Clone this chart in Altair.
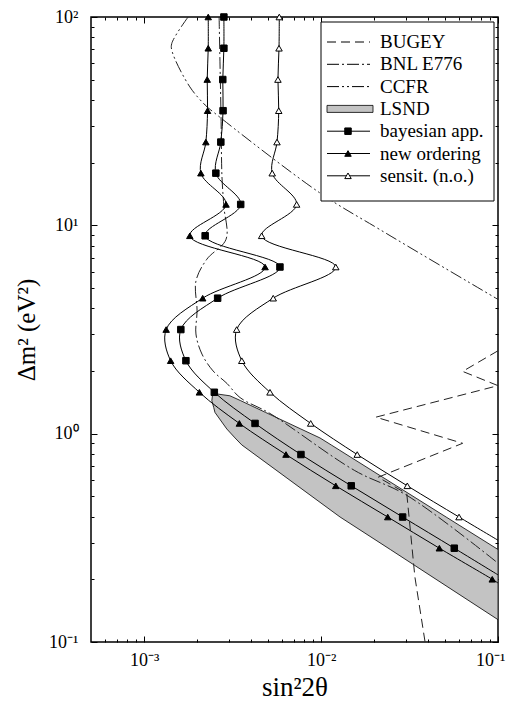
import altair as alt
import pandas as pd

# ---------------- data ----------------
# Delta m^2 grid (eV^2) at which the model-curve markers sit
DM2_GRID = [100.0, 70.8, 50.1, 35.5, 25.1, 17.8, 12.6, 8.91, 6.31, 4.47,
            3.16, 2.24, 1.58, 1.12, 0.794, 0.562, 0.398, 0.282, 0.200]

NEW_ORDER_X = [2.30e-3, 2.30e-3, 2.27e-3, 2.28e-3, 2.23e-3, 2.09e-3, 2.90e-3,
               1.81e-3, 4.82e-3, 2.14e-3, 1.33e-3, 1.41e-3, 2.05e-3, 3.45e-3,
               6.33e-3, 1.21e-2, 2.38e-2, 4.66e-2, 9.28e-2]
NEW_ORDER_END = [0.1, 0.192]

BAYES_X = [2.82e-3, 2.82e-3, 2.78e-3, 2.79e-3, 2.71e-3, 2.54e-3, 3.51e-3,
           2.21e-3, 5.85e-3, 2.60e-3, 1.61e-3, 1.72e-3, 2.49e-3, 4.23e-3,
           7.69e-3, 1.48e-2, 2.89e-2, 5.66e-2]
BAYES_END = [0.1, 0.210]

SENSIT_X = [5.80e-3, 5.78e-3, 5.70e-3, 5.76e-3, 5.63e-3, 5.29e-3, 7.27e-3,
            4.61e-3, 1.21e-2, 5.36e-3, 3.33e-3, 3.56e-3, 5.14e-3, 8.73e-3,
            1.60e-2, 3.07e-2, 6.02e-2]
SENSIT_END = [0.1, 0.308]

BUGEY_X = [0.1, 0.0631, 0.1, 0.0204, 0.0631, 0.0210, 0.0305, 0.0339, 0.0387]
BUGEY_Y = [2.50, 1.99, 1.70, 1.20, 0.899, 0.618, 0.515, 0.205, 0.100]

BNL_X = [2.65e-3, 2.68e-3, 2.72e-3, 2.75e-3, 2.82e-3, 2.90e-3, 2.26e-3, 1.96e-3,
         1.99e-3, 1.96e-3, 2.12e-3, 2.45e-3, 2.94e-3, 3.48e-3, 5.14e-3, 1.55e-2,
         3.06e-2, 0.1]
BNL_Y = [100, 60.9, 31.5, 17.2, 12.3, 8.57, 6.88, 5.40, 3.88, 3.01, 2.41, 2.00,
         1.74, 1.49, 1.25, 0.665, 0.505, 0.239]

CCFR_X = [1.77e-3, 1.43e-3, 1.44e-3, 1.81e-3, 2.21e-3, 2.51e-3, 9.85e-3, 2.15e-2, 0.1]
CCFR_Y = [100, 74.5, 68.0, 46.2, 37.8, 34.5, 14.3, 9.54, 4.41]

LSND_Y = [1.56, 1.52, 1.44, 1.336, 1.265, 1.053, 0.954, 0.883, 0.398, 0.278, 0.128]
LSND_XLO = [2.46e-3, 2.43e-3, 2.41e-3, 2.47e-3, 2.51e-3, 2.93e-3, 3.26e-3, 3.56e-3,
            1.28e-2, 2.46e-2, 0.1]
LSND_XHI = [2.46e-3, 3.05e-3, 3.51e-3, 4.23e-3, 4.85e-3, 7.68e-3, 9.85e-3, 1.14e-2,
            5.09e-2, 0.1, 0.1]

LEGEND_LABELS = ["BUGEY", "BNL E776", "CCFR", "LSND",
                 "bayesian app.", "new ordering", "sensit. (n.o.)"]

X_MAJOR = [1e-3, 1e-2, 1e-1]
Y_MAJOR = [0.1, 1, 10, 100]
X_MINOR = [6e-4, 7e-4, 8e-4, 9e-4, 2e-3, 3e-3, 4e-3, 5e-3, 6e-3, 7e-3, 8e-3, 9e-3,
           2e-2, 3e-2, 4e-2, 5e-2, 6e-2, 7e-2, 8e-2, 9e-2]
Y_MINOR = [0.2, 0.3, 0.4, 0.5, 0.6, 0.7, 0.8, 0.9, 2, 3, 4, 5, 6, 7, 8, 9,
           20, 30, 40, 50, 60, 70, 80, 90]

XDOM = [5e-4, 1e-1]
YDOM = [1e-1, 1e2]

# ---------------- styling ----------------
W, H = 407, 625
FONT = "Liberation Serif"

xsc = alt.Scale(type="log", domain=XDOM, nice=False)
ysc = alt.Scale(type="log", domain=YDOM, nice=False)


def frame(xs, ys):
    return pd.DataFrame({"x": xs, "y": ys, "i": list(range(len(xs)))})


def enc(chart):
    return chart.encode(
        x=alt.X("x:Q", scale=xsc, axis=None),
        y=alt.Y("y:Q", scale=ysc, axis=None),
        order=alt.Order("i:Q"),
    )


# LSND allowed region (horizontal band)
lsnd = alt.Chart(pd.DataFrame({"y": LSND_Y, "xlo": LSND_XLO, "xhi": LSND_XHI})).mark_area(
    orient="horizontal", fill="#c3c3c3", stroke="black", strokeWidth=0.8, clip=True
).encode(
    y=alt.Y("y:Q", scale=ysc, axis=None),
    x=alt.X("xlo:Q", scale=xsc, axis=None),
    x2="xhi:Q",
)

bugey = enc(alt.Chart(frame(BUGEY_X, BUGEY_Y)).mark_line(
    color="#222", strokeWidth=1, strokeDash=[9, 5], clip=True))
bnl = enc(alt.Chart(frame(BNL_X, BNL_Y)).mark_line(
    color="#222", strokeWidth=1, strokeDash=[12, 3, 2, 3], interpolate="catmull-rom", clip=True))
ccfr = enc(alt.Chart(frame(CCFR_X, CCFR_Y)).mark_line(
    color="#222", strokeWidth=1, strokeDash=[12, 3, 2, 3, 2, 3], interpolate="catmull-rom", clip=True))


def model_line(xs, end):
    ys = DM2_GRID[: len(xs)]
    return enc(alt.Chart(frame(xs + [end[0]], ys + [end[1]])).mark_line(
        color="black", strokeWidth=1, interpolate="catmull-rom", clip=True))


def model_points(xs, shape, fill):
    ys = DM2_GRID[: len(xs)]
    return enc(alt.Chart(frame(xs, ys)).mark_point(
        shape=shape, filled=True, fill=fill, stroke="black", strokeWidth=1,
        size=42, opacity=1))


no_line = model_line(NEW_ORDER_X, NEW_ORDER_END)
ba_line = model_line(BAYES_X, BAYES_END)
se_line = model_line(SENSIT_X, SENSIT_END)
no_pts = model_points(NEW_ORDER_X, "triangle-up", "black")
ba_pts = model_points(BAYES_X, "square", "black")
se_pts = model_points(SENSIT_X, "triangle-up", "white")

# ---------------- axes (inward ticks on all four sides) ----------------
DUMMY = pd.DataFrame({"x": XDOM, "y": YDOM})
common = dict(grid=False, domain=False, tickColor="black", tickWidth=1,
              labelOverlap=False, labelBound=False)


def axis_layer(xaxis, yaxis):
    return alt.Chart(DUMMY).mark_point(opacity=0).encode(
        x=alt.X("x:Q", scale=xsc, axis=xaxis),
        y=alt.Y("y:Q", scale=ysc, axis=yaxis),
    )


xlab = "['10⁻³','10⁻²','10⁻¹'][round(log(datum.value)/LN10)+3]"
ylab = "['10⁻¹','10⁰','10¹','10²'][round(log(datum.value)/LN10)+1]"

ax_main = axis_layer(
    alt.Axis(orient="bottom", values=X_MAJOR, tickSize=6, offset=-6, labelExpr=xlab,
             labelFont=FONT, labelFontSize=18, labelColor="black", labelPadding=9,
             labelFlush=True, labelFlushOffset=7,
             title="sin²2θ", titleFont=FONT, titleFontSize=27, titleFontWeight="normal",
             titleColor="black", titlePadding=5, **common),
    alt.Axis(orient="left", values=Y_MAJOR, tickSize=6, offset=-6, labelExpr=ylab,
             labelFont=FONT, labelFontSize=18, labelColor="black", labelPadding=13,
             labelFlush=False,
             title="Δm²  (eV²)", titleFont=FONT, titleFontSize=25, titleFontWeight="normal",
             titleColor="black", titlePadding=9, **common),
)
ax_minor = axis_layer(
    alt.Axis(orient="bottom", values=X_MINOR, tickSize=3, offset=-3, labels=False, title="", **common),
    alt.Axis(orient="left", values=Y_MINOR, tickSize=3, offset=-3, labels=False, title="", **common),
)
ax_top = axis_layer(
    alt.Axis(orient="top", values=X_MAJOR, tickSize=6, offset=-6, labels=False, title="", **common),
    alt.Axis(orient="right", values=Y_MAJOR, tickSize=6, offset=-6, labels=False, title="", **common),
)
ax_top_minor = axis_layer(
    alt.Axis(orient="top", values=X_MINOR, tickSize=3, offset=-3, labels=False, title="", **common),
    alt.Axis(orient="right", values=Y_MINOR, tickSize=3, offset=-3, labels=False, title="", **common),
)

main = alt.layer(
    lsnd, bugey, bnl, ccfr, no_line, ba_line, se_line, no_pts, ba_pts, se_pts,
    ax_main, ax_minor, ax_top, ax_top_minor,
).resolve_axis(x="independent", y="independent")

# ---------------- legend ----------------
ROW_TOP, ROW_STEP = 25, 22.3
legdf = pd.DataFrame({"label": LEGEND_LABELS, "row": list(range(len(LEGEND_LABELS)))})
legsc = alt.Scale(domain=[0, H], range=[0, H])
leg_y = alt.Y("ly:Q", scale=legsc, axis=None)
base = alt.Chart(legdf).transform_calculate(ly=f"{ROW_TOP} + datum.row * {ROW_STEP}")

box = alt.Chart(pd.DataFrame({"a": [0]})).mark_rect(
    fill="white", stroke="black", strokeWidth=1).encode(
    x=alt.value(230), x2=alt.value(403), y=alt.value(5), y2=alt.value(184))

dash_labels = [l for l in LEGEND_LABELS if l != "LSND"]
leg_lines = base.transform_filter("datum.row != 3").mark_rule(
    color="black", strokeWidth=1).encode(
    x=alt.value(236), x2=alt.value(279), y=leg_y,
    strokeDash=alt.StrokeDash("label:N", legend=None, scale=alt.Scale(
        domain=dash_labels,
        range=[[9, 5], [12, 3, 2, 3], [12, 3, 2, 3, 2, 3], [1, 0], [1, 0], [1, 0]])),
)
leg_swatch = base.transform_filter("datum.row == 3").transform_calculate(
    y1="datum.ly - 3.5", y2="datum.ly + 3.5").mark_rect(
    fill="#c3c3c3", stroke="black", strokeWidth=0.8).encode(
    x=alt.value(236), x2=alt.value(282),
    y=alt.Y("y1:Q", scale=legsc, axis=None), y2="y2:Q")
mk_labels = LEGEND_LABELS[4:]
leg_marks = base.transform_filter("datum.row >= 4").mark_point(
    filled=True, size=42, stroke="black", strokeWidth=1, opacity=1).encode(
    x=alt.value(257), y=leg_y,
    shape=alt.Shape("label:N", legend=None, scale=alt.Scale(
        domain=mk_labels, range=["square", "triangle-up", "triangle-up"])),
    fill=alt.Fill("label:N", legend=None, scale=alt.Scale(
        domain=mk_labels, range=["black", "black", "white"])),
)
leg_text = base.mark_text(align="left", baseline="middle", font=FONT, fontSize=19,
                          color="black").encode(x=alt.value(289), y=leg_y, text="label:N")

legend = alt.layer(box, leg_lines, leg_swatch, leg_marks, leg_text)

chart = alt.layer(main, legend).resolve_scale(y="independent").properties(
    width=W, height=H,
    autosize=alt.AutoSizeParams(type="none"),
    padding={"left": 83, "top": 9, "right": 8, "bottom": 59},
).configure_view(stroke="black", strokeWidth=1.5)

chart.save("out.html", embed_options={"renderer": "svg", "actions": False})
